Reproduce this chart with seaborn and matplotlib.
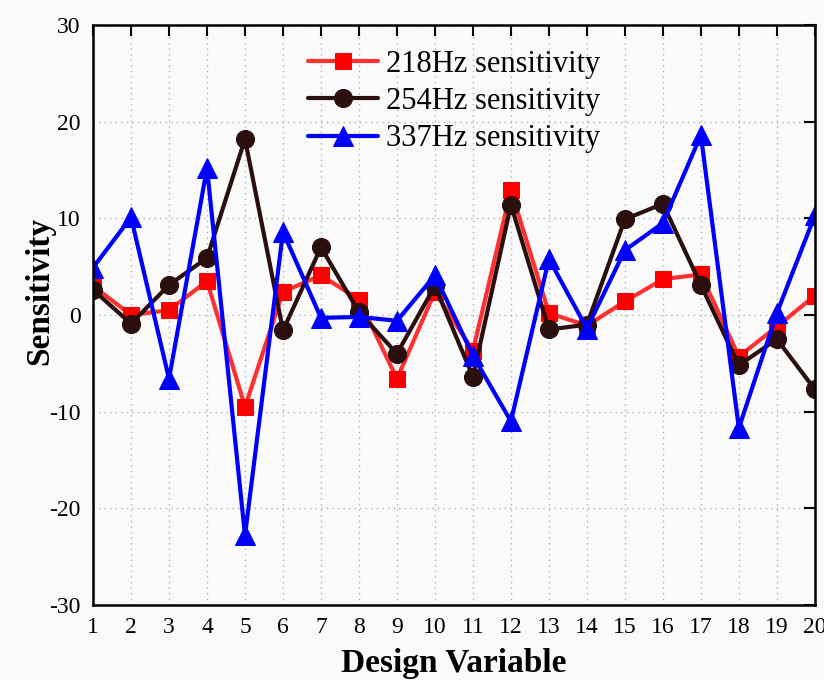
import numpy as np
import pandas as pd
import matplotlib
matplotlib.use('Agg')
import matplotlib.pyplot as plt
import seaborn as sns

design_var = list(range(1, 21))
s218 = [3.0, 0.0, 0.5, 3.5, -9.5, 2.4, 4.1, 1.6, -6.6, 2.4,
        -3.7, 12.9, 0.2, -1.1, 1.4, 3.7, 4.2, -4.3, -1.2, 2.0]
s254 = [2.6, -0.9, 3.1, 5.9, 18.2, -1.6, 7.0, 0.3, -4.0, 3.0,
        -6.4, 11.4, -1.5, -1.0, 9.9, 11.5, 3.1, -5.2, -2.5, -7.7]
s337 = [4.9, 10.1, -6.6, 15.2, -22.8, 8.6, -0.3, -0.2, -0.6, 4.1,
        -4.2, -11.0, 5.8, -1.4, 6.7, 9.5, 18.6, -11.7, 0.2, 10.3]
labels = ['218Hz sensitivity', '254Hz sensitivity', '337Hz sensitivity']

sns.set_theme(style='white')
plt.rcParams['font.family'] = ['Liberation Serif', 'DejaVu Serif']
plt.rcParams['axes.unicode_minus'] = False
plt.rcParams['text.color'] = 'black'
plt.rcParams['axes.labelcolor'] = 'black'

fig = plt.figure(figsize=(8.24, 6.80), dpi=100, facecolor='#fafafa')
ax = fig.add_axes([0.1129, 0.1103, 0.876, 0.853])
ax.set_facecolor('#fafafa')

styles = [
    (s218, 's', '#ff3030', '#ff0000', 12),
    (s254, 'o', '#2b0f0f', '#2b0f0f', 13),
    (s337, '^', '#0000ff', '#0000ff', 15),
]
for (vals, mk, lc, mc, ms), lab in zip(styles, labels):
    df = pd.DataFrame({'x': design_var, 'y': vals})
    sns.lineplot(data=df, x='x', y='y', ax=ax, color=lc, linewidth=3,
                 marker=mk, markersize=ms, markerfacecolor=mc,
                 markeredgecolor=mc, label=lab)

ax.set_xlim(1, 20)
ax.set_ylim(-30, 30)
ax.set_xticks(design_var)
ax.set_yticks(np.arange(-30, 31, 10))
ax.grid(True, color='#b0b0b0', linestyle=(0, (1, 3)), linewidth=1)
ax.tick_params(direction='in', length=8, width=1.5, top=True, right=True,
               labelsize=17, colors='black', pad=9)
for sp in ax.spines.values():
    sp.set_linewidth(1.8)
    sp.set_color('black')

ax.set_xlabel('Design Variable', fontsize=24, fontweight='bold', labelpad=7)
ax.set_ylabel('Sensitivity', fontsize=24, fontweight='bold')
ax.yaxis.set_label_coords(-0.053, 0.541)

leg = ax.legend(loc='upper left', bbox_to_anchor=(0.298, 0.957), frameon=False,
                fontsize=22, handlelength=2.3, handletextpad=0.25,
                labelspacing=0.27, borderpad=0, borderaxespad=0)

fig.savefig('out.png', dpi=100, facecolor=fig.get_facecolor())
